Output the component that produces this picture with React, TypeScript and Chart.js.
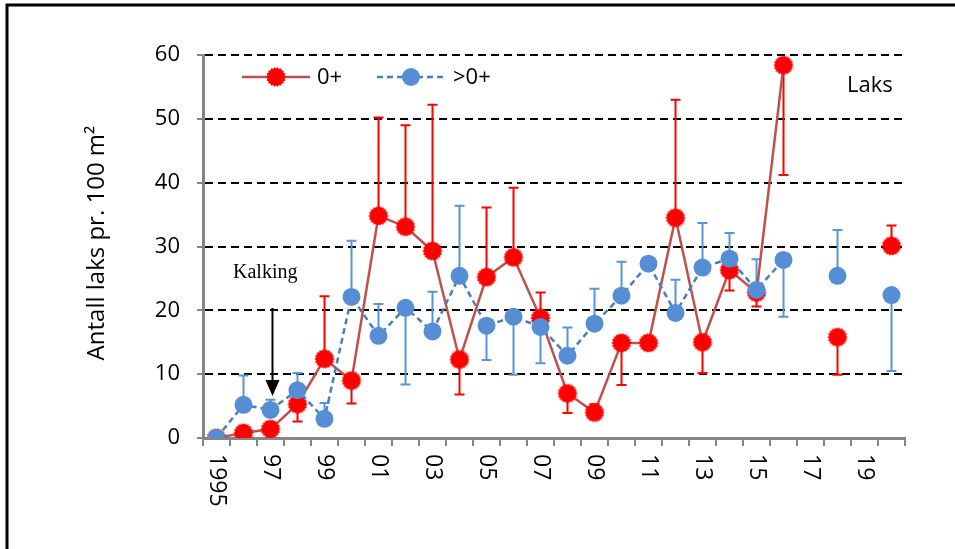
import React, { useEffect, useRef } from 'react';
import { Chart, registerables } from 'chart.js';
Chart.register(...registerables);

const years = ['1995','1996','1997','1998','1999','2000','2001','2002','2003','2004','2005','2006','2007','2008','2009','2010','2011','2012','2013','2014','2015','2016','2017','2018','2019','2020'];
const tickLabels = ['1995','','97','','99','','01','','03','','05','','07','','09','','11','','13','','15','','17','','19',''];

const fry = [0,0.8,1.4,5.3,12.4,9.0,34.8,33.1,29.3,12.3,25.2,28.3,18.8,7.0,4.0,14.9,14.9,34.5,15.0,26.3,22.8,58.4,null,15.8,null,30.1];
const fryLow = [null,null,null,2.6,null,5.4,null,null,null,6.8,null,null,null,3.9,null,8.3,null,null,10.2,23.1,20.6,41.2,null,9.9,null,null];
const fryHigh = [null,null,null,null,22.2,null,50.2,49.0,52.2,null,36.1,39.2,22.8,null,5.3,null,null,53.0,null,null,null,null,null,null,null,33.3];

const parr = [0,5.2,4.4,7.5,3.0,22.1,16.0,20.4,16.7,25.4,17.6,19.0,17.4,12.9,17.9,22.3,27.3,19.6,26.7,28.1,23.2,27.9,null,25.4,null,22.4];
const parrLow = [null,null,null,null,null,null,null,8.4,null,null,12.2,9.9,11.7,null,null,null,null,null,null,null,null,19.0,null,null,null,10.5];
const parrHigh = [null,9.8,6.0,10.2,5.5,30.9,21.0,null,22.9,36.4,null,null,null,17.3,23.4,27.6,null,24.8,33.7,32.1,28.0,null,null,32.6,null,null];

const FONT = '"Open Sans", sans-serif';
const RED = '#FF0000';
const RED_LINE = '#C0504D';
const BLUE = '#558ED5';
const BLUE_LINE = '#4A7EBB';
const BLUE_ERR = '#5B93D8';
const GRAY = '#868686';

function makeSerrated(r: number, color: string) {
  const size = Math.ceil(r * 2 + 4);
  const c = document.createElement('canvas');
  c.width = size; c.height = size;
  const ctx = c.getContext('2d')!;
  const cx = size / 2;
  const n = 18;
  ctx.beginPath();
  for (let i = 0; i < n * 2; i++) {
    const a = (i * Math.PI) / n;
    const rr = i % 2 === 0 ? r : r - 1.4;
    const x = cx + rr * Math.cos(a);
    const y = cx + rr * Math.sin(a);
    if (i === 0) ctx.moveTo(x, y); else ctx.lineTo(x, y);
  }
  ctx.closePath();
  ctx.fillStyle = color;
  ctx.fill();
  return c;
}

export default function App() {
  const ref = useRef<HTMLCanvasElement>(null);
  useEffect(() => {
    document.body.style.margin = '0';
    const star = makeSerrated(10, RED);

    const errPlugin = {
      id: 'errbars',
      beforeDatasetsDraw(chart: any) {
        const { ctx, scales } = chart;
        const xs = scales.x, ys = scales.y;
        const drawSet = (vals: any[], lows: any[], highs: any[], color: string) => {
          ctx.save();
          ctx.strokeStyle = color;
          ctx.lineWidth = 2;
          for (let i = 0; i < vals.length; i++) {
            const v = vals[i];
            if (v == null) continue;
            const xp = xs.getPixelForValue(i);
            const yv = ys.getPixelForValue(v);
            for (const e of [lows[i], highs[i]]) {
              if (e == null) continue;
              const ye = ys.getPixelForValue(e);
              ctx.beginPath();
              ctx.moveTo(xp, yv); ctx.lineTo(xp, ye);
              ctx.moveTo(xp - 5, ye); ctx.lineTo(xp + 5, ye);
              ctx.stroke();
            }
          }
          ctx.restore();
        };
        drawSet(fry, fryLow, fryHigh, RED);
        drawSet(parr, parrLow, parrHigh, BLUE_ERR);
      },
    };

    const decoPlugin = {
      id: 'deco',
      afterDraw(chart: any) {
        const { ctx, scales } = chart;
        const xs = scales.x;
        ctx.save();
        // outer frame
        ctx.strokeStyle = '#000';
        ctx.lineWidth = 3;
        ctx.beginPath();
        ctx.moveTo(7, 549); ctx.lineTo(7, 5); ctx.lineTo(960, 5);
        ctx.stroke();

        // x labels rotated clockwise
        ctx.fillStyle = '#000';
        ctx.font = `23px ${FONT}`;
        ctx.textAlign = 'left';
        ctx.textBaseline = 'middle';
        tickLabels.forEach((lab, i) => {
          if (!lab) return;
          const xp = xs.getPixelForValue(i);
          ctx.save();
          ctx.translate(xp, 454);
          ctx.rotate(Math.PI / 2);
          ctx.fillText(lab, 0, 0);
          ctx.restore();
        });

        // y title
        ctx.save();
        ctx.translate(97, 243);
        ctx.rotate(-Math.PI / 2);
        ctx.textAlign = 'center';
        ctx.textBaseline = 'middle';
        ctx.font = `24px ${FONT}`;
        ctx.fillText('Antall laks pr. 100 m²', 0, 0);
        ctx.restore();

        // legend
        const ly = 77;
        ctx.strokeStyle = RED_LINE;
        ctx.lineWidth = 2.5;
        ctx.beginPath(); ctx.moveTo(242, ly); ctx.lineTo(310, ly); ctx.stroke();
        ctx.drawImage(star, 276 - star.width / 2, ly - star.height / 2);
        ctx.fillStyle = '#000';
        ctx.textAlign = 'left';
        ctx.textBaseline = 'middle';
        ctx.font = `22px ${FONT}`;
        ctx.fillText('0+', 317, ly + 1);

        ctx.strokeStyle = BLUE_LINE;
        ctx.setLineDash([6, 4]);
        ctx.beginPath(); ctx.moveTo(377, ly); ctx.lineTo(446, ly); ctx.stroke();
        ctx.setLineDash([]);
        ctx.fillStyle = BLUE;
        ctx.beginPath(); ctx.arc(411, ly, 9, 0, Math.PI * 2); ctx.fill();
        ctx.fillStyle = '#000';
        ctx.fillText('>0+', 453, ly + 1);

        // Laks
        ctx.fillText('Laks', 847, 86);

        // Kalking annotation
        ctx.font = '20px "Liberation Serif", serif';
        ctx.fillText('Kalking', 233, 273);
        const ax = xs.getPixelForValue(2) + 2;
        ctx.strokeStyle = '#000';
        ctx.lineWidth = 2;
        ctx.beginPath(); ctx.moveTo(ax, 308); ctx.lineTo(ax, 382); ctx.stroke();
        ctx.fillStyle = '#000';
        ctx.beginPath();
        ctx.moveTo(ax - 7, 380); ctx.lineTo(ax + 7, 380); ctx.lineTo(ax, 396); ctx.closePath();
        ctx.fill();
        ctx.restore();
      },
    };

    const chart = new Chart(ref.current!, {
      type: 'line',
      data: {
        labels: years,
        datasets: [
          {
            label: '0+',
            data: fry,
            borderColor: RED_LINE,
            borderWidth: 2.5,
            pointStyle: star as any,
            pointRadius: 10,
            backgroundColor: RED,
            tension: 0,
            order: 1,
          },
          {
            label: '>0+',
            data: parr,
            borderColor: BLUE_LINE,
            borderWidth: 2.5,
            borderDash: [6, 4],
            pointStyle: 'circle',
            pointRadius: 9,
            pointBorderWidth: 0,
            pointBackgroundColor: BLUE,
            pointBorderColor: BLUE,
            tension: 0,
            order: 0,
          },
        ],
      },
      options: {
        responsive: false,
        animation: false,
        devicePixelRatio: 1,
        layout: { padding: { top: 55, right: 50, left: 0, bottom: 0 } },
        plugins: { legend: { display: false }, tooltip: { enabled: false } },
        scales: {
          x: {
            type: 'category',
            offset: true,
            grid: {
              display: true,
              drawOnChartArea: false,
              drawTicks: true,
              tickLength: 8,
              color: GRAY,
              lineWidth: 2,
              offset: true,
            },
            border: { display: true, color: GRAY, width: 3 },
            ticks: { display: false },
            afterFit: (s: any) => { s.height = 111; },
          },
          y: {
            min: 0,
            max: 60,
            ticks: {
              stepSize: 10,
              color: '#000',
              font: { family: FONT, size: 22 },
              padding: 17,
            },
            grid: {
              color: (c: any) => (c.tick && c.tick.value === 0 ? 'rgba(0,0,0,0)' : '#000'),
              lineWidth: 2,
              tickColor: GRAY,
              tickLength: 6,
              tickBorderDash: [],
              tickWidth: 2,
            } as any,
            border: { display: true, color: GRAY, width: 3, dash: [8, 5] },
            afterFit: (s: any) => { s.width = 203; },
          },
        },
      },
      plugins: [errPlugin, decoPlugin],
    });
    return () => chart.destroy();
  }, []);
  return (
    <div style={{ width: 955, height: 549, position: 'relative', background: '#fff' }}>
      <canvas ref={ref} width={955} height={549} />
    </div>
  );
}
